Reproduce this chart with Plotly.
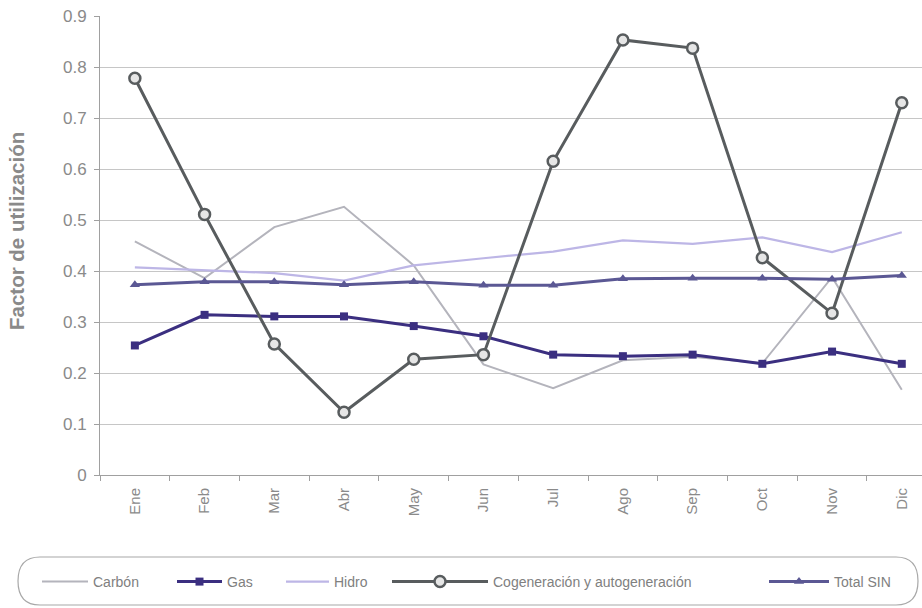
import plotly.graph_objects as go

# Monthly utilisation factor by generation technology
months = ["Ene", "Feb", "Mar", "Abr", "May", "Jun", "Jul", "Ago", "Sep", "Oct", "Nov", "Dic"]

carbon = [0.458, 0.386, 0.486, 0.526, 0.411, 0.217, 0.170, 0.225, 0.232, 0.219, 0.388, 0.167]
gas = [0.254, 0.314, 0.311, 0.311, 0.292, 0.272, 0.236, 0.233, 0.236, 0.218, 0.242, 0.218]
hidro = [0.407, 0.402, 0.396, 0.381, 0.411, 0.425, 0.438, 0.460, 0.453, 0.466, 0.437, 0.476]
cogen = [0.778, 0.511, 0.257, 0.123, 0.227, 0.236, 0.615, 0.853, 0.837, 0.426, 0.317, 0.730]
total_sin = [0.373, 0.379, 0.379, 0.373, 0.379, 0.372, 0.372, 0.385, 0.386, 0.386, 0.384, 0.391]

W, H = 922, 608
ML, MR, MT, MB = 100, 0, 16, 133
PW, PH = W - ML - MR, H - MT - MB

FONT = "Liberation Sans, Arial, sans-serif"
GREY_TXT = "#8a8a8a"

fig = go.Figure()

fig.add_trace(go.Scatter(
    x=months, y=carbon, name="Carbón", mode="lines",
    line=dict(color="#b4b4bc", width=2), legend="legend"))
fig.add_trace(go.Scatter(
    x=months, y=gas, name="Gas", mode="lines+markers",
    line=dict(color="#3b2f80", width=3),
    marker=dict(symbol="square", size=8, color="#3b2f80"), legend="legend2"))
fig.add_trace(go.Scatter(
    x=months, y=hidro, name="Hidro", mode="lines",
    line=dict(color="#bdb6e6", width=2.2), legend="legend3"))
fig.add_trace(go.Scatter(
    x=months, y=cogen, name="Cogeneración y autogeneración", mode="lines+markers",
    line=dict(color="#585c5e", width=3),
    marker=dict(symbol="circle", size=11, color="#e6e6e6",
                line=dict(color="#585c5e", width=2.5)), legend="legend4"))
fig.add_trace(go.Scatter(
    x=months, y=total_sin, name="Total SIN", mode="lines+markers",
    line=dict(color="#5b5894", width=3),
    marker=dict(symbol="triangle-up", size=9, color="#5b5894"), legend="legend5"))


def px_x(px):
    return (px - ML) / PW


def px_y(py):
    return (H - MB - py) / PH


# Rounded frame around the legend row
x0, x1, y0, y1, r = 18, 918, 557, 605, 22
path = (
    f"M {px_x(x0 + r)},{px_y(y0)} L {px_x(x1 - r)},{px_y(y0)} "
    f"Q {px_x(x1)},{px_y(y0)} {px_x(x1)},{px_y((y0 + y1) / 2)} "
    f"Q {px_x(x1)},{px_y(y1)} {px_x(x1 - r)},{px_y(y1)} "
    f"L {px_x(x0 + r)},{px_y(y1)} "
    f"Q {px_x(x0)},{px_y(y1)} {px_x(x0)},{px_y((y0 + y1) / 2)} "
    f"Q {px_x(x0)},{px_y(y0)} {px_x(x0 + r)},{px_y(y0)} Z"
)
fig.add_shape(type="path", path=path, xref="paper", yref="paper",
              line=dict(color="#a8a8a8", width=1.2), fillcolor="rgba(0,0,0,0)")

# Y-axis title placed as a rotated annotation
fig.add_annotation(
    text="<b>Factor de utilización</b>", textangle=-90,
    x=px_x(17), y=px_y(231), xref="paper", yref="paper",
    xanchor="center", yanchor="middle", showarrow=False,
    font=dict(family=FONT, size=20.5, color=GREY_TXT),
)

legend_font = dict(family=FONT, size=14, color="#808080")
leg_y = 1 - 582 / H


def leg(xpx, itemwidth=30):
    return dict(x=xpx / W, xref="container", y=leg_y, yref="container",
                xanchor="left", yanchor="middle", orientation="h",
                font=legend_font, bgcolor="rgba(0,0,0,0)", borderwidth=0,
                itemwidth=itemwidth)


fig.update_layout(
    width=W, height=H,
    margin=dict(l=ML, r=MR, t=MT, b=MB),
    paper_bgcolor="white", plot_bgcolor="white",
    font=dict(family=FONT, color=GREY_TXT),
    showlegend=True,
    legend=leg(37, 46),
    legend2=leg(172, 45),
    legend3=leg(281, 43),
    legend4=leg(387, 96),
    legend5=leg(764, 60),
    xaxis=dict(
        type="category", range=[-0.5, 11.29],
        showgrid=False, showline=True, linecolor="#a0a0a0", linewidth=1,
        ticks="outside", tickson="boundaries", ticklen=5, tickcolor="#a0a0a0",
        tickangle=-90, tickfont=dict(family=FONT, size=15, color=GREY_TXT),
        ticklabelstandoff=6,
        zeroline=False,
    ),
    yaxis=dict(
        range=[0, 0.9], dtick=0.1, tickformat=".1~f",
        showgrid=True, gridcolor="#c6c6c6", gridwidth=1,
        showline=True, linecolor="#a0a0a0", linewidth=1,
        ticks="outside", ticklen=5, tickcolor="#a0a0a0",
        tickfont=dict(family=FONT, size=17, color=GREY_TXT),
        ticklabelstandoff=4,
        zeroline=False,
    ),
)

fig.write_html("out.html")
